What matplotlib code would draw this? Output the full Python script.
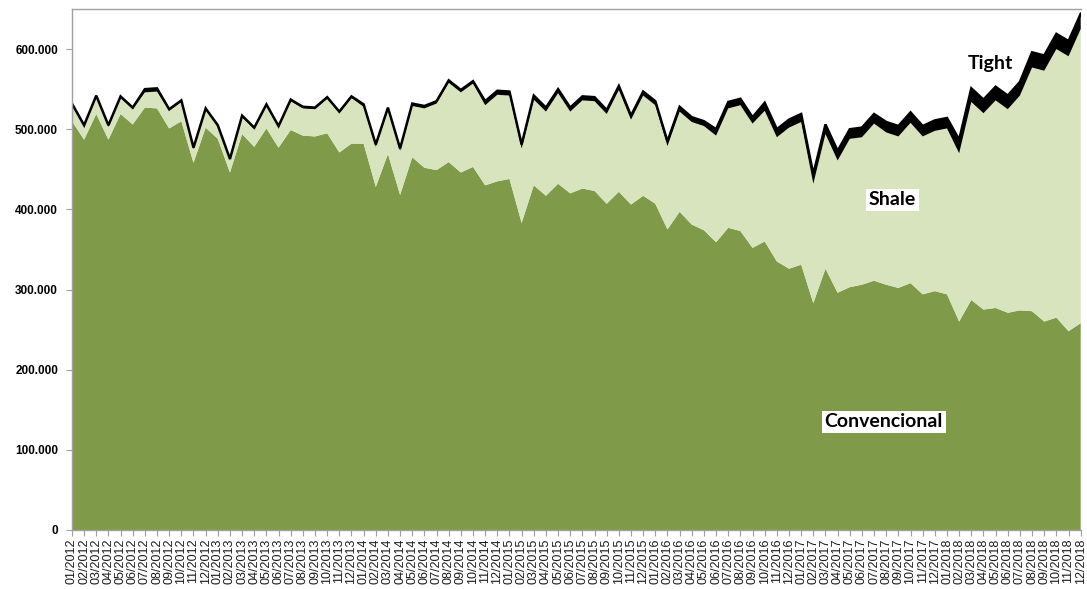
import matplotlib.pyplot as plt
from matplotlib.ticker import FuncFormatter

# months 01/2012 .. 12/2018
months = [f"{m:02d}/{y}" for y in range(2012, 2019) for m in range(1, 13)]

# values in thousands
convencional = [510, 487, 519, 487, 519, 506, 527, 526, 501, 510, 458, 502,
                488, 446, 494, 478, 501, 477, 499, 492, 491, 495, 471, 482,
                482, 428, 469, 418, 465, 452, 449, 459, 446, 453, 430, 435,
                438, 383, 430, 417, 432, 420, 426, 423, 407, 422, 406, 417,
                407, 375, 397, 381, 374, 359, 377, 373, 352, 360, 335, 326,
                331, 283, 326, 296, 303, 306, 311, 306, 302, 308, 294, 298,
                294, 260, 287, 275, 277, 271, 274, 273, 260, 265, 248, 258]

shale = [20, 16, 21, 16, 20, 19, 19, 21, 22, 24, 17, 22,
         15, 15, 21, 22, 28, 25, 36, 34, 34, 43, 49, 57,
         46, 50, 55, 55, 64, 74, 83, 99, 100, 104, 100, 108,
         104, 93, 107, 105, 113, 102, 110, 112, 112, 127, 106, 125,
         123, 104, 125, 128, 130, 133, 149, 157, 155, 163, 155, 176,
         178, 149, 168, 165, 185, 184, 196, 190, 189, 200, 197, 200,
         207, 210, 247, 245, 259, 254, 268, 304, 313, 335, 343, 367]

tight = [2, 2, 2, 2, 2, 2, 4, 4, 2, 2, 2, 2,
         2, 2, 2, 2, 2, 2, 2, 2, 2, 2, 2, 2,
         3, 3, 3, 3, 3, 3, 3, 3, 3, 3, 5, 5,
         5, 5, 5, 5, 5, 5, 5, 5, 5, 5, 5, 5,
         5, 6, 6, 6, 6, 8, 8, 8, 8, 10, 10, 10,
         10, 12, 12, 12, 12, 12, 12, 13, 13, 13, 13, 13,
         13, 17, 17, 17, 17, 17, 17, 19, 19, 19, 19, 19]

conv_color = '#7F9A48'
shale_color = '#D7E4BD'
tight_color = '#000000'

x = list(range(len(months)))
conv = [v * 1000 for v in convencional]
sh = [v * 1000 for v in shale]
ti = [v * 1000 for v in tight]

fig = plt.figure(figsize=(10.87, 5.89), dpi=100)
ax = fig.add_axes([0.0662, 0.1002, 0.928, 0.8845])

ax.stackplot(x, conv, sh, ti, colors=[conv_color, shale_color, tight_color], linewidth=0)
top = [a + b + c for a, b, c in zip(conv, sh, ti)]
ax.plot(x, top, color='black', linewidth=1.8, solid_joinstyle='miter')

ax.set_xlim(0, len(months) - 1)
ax.set_ylim(0, 650000)
ax.set_yticks(range(0, 600001, 100000))
ax.yaxis.set_major_formatter(FuncFormatter(lambda v, p: f"{int(v):,}".replace(',', '.')))
ax.set_xticks(x)
ax.set_xticklabels(months, rotation=90, fontsize=9, family='Liberation Sans', color='#1a1a1a')
for lab in ax.get_yticklabels():
    lab.set_fontweight('bold')
    lab.set_fontsize(8.5)
    lab.set_family('Liberation Sans')

ax.tick_params(axis='both', direction='out', length=4, color='#A0A0A0', pad=2)
ax.tick_params(axis='y', pad=6)
for s in ax.spines.values():
    s.set_color('#A0A0A0')
    s.set_linewidth(1.0)
ax.spines['right'].set_visible(False)

box = dict(facecolor='white', edgecolor='none', pad=2)
ax.text(66.8, 135000, 'Convencional', fontsize=14, fontweight='bold', family='Lato',
        ha='center', va='center', bbox=box)
ax.text(67.5, 412000, 'Shale', fontsize=14, fontweight='bold', family='Lato',
        ha='center', va='center', bbox=box)
ax.text(75.6, 582000, 'Tight', fontsize=14, fontweight='bold', family='Lato',
        ha='center', va='center')

fig.savefig('out.png', dpi=100)
